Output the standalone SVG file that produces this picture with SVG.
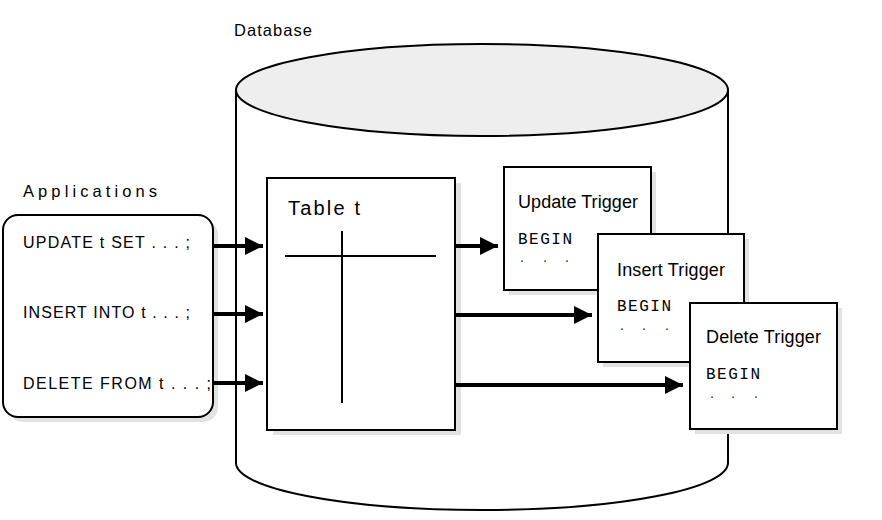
<svg xmlns="http://www.w3.org/2000/svg" width="882" height="520" viewBox="0 0 882 520">
<defs>
<style>
.t{font-family:"Liberation Sans",Arial,sans-serif;font-size:16px;fill:#000}
.h{font-family:"Liberation Sans",Arial,sans-serif;font-size:16.5px;fill:#000}
.g{font-family:"Liberation Sans",Arial,sans-serif;font-size:18px;fill:#000}
.m{font-family:"Liberation Mono","Courier New",monospace;font-size:16px;fill:#000}
.d{font-family:"Liberation Mono","Courier New",monospace;font-size:10px;fill:#000}
.box{fill:#fff;stroke:#000;stroke-width:2}
.sh{fill:#e2e2e2}
.ln{stroke:#000;stroke-width:2;fill:none}
.ar{stroke:#000;stroke-width:4;fill:none}
</style>
<marker id="ah" viewBox="0 0 10 10" refX="10" refY="5" markerWidth="4.5" markerHeight="4.7" markerUnits="strokeWidth" orient="auto">
<path d="M0,0 L10,5 L0,10 z" fill="#000"/>
</marker>
</defs>
<rect width="882" height="520" fill="#fff"/>
<g id="database">
<path d="M236,90 L236,463 A246,47 0 0 0 728,463 L728,90" fill="#fff" stroke="#000" stroke-width="2"/>
<ellipse cx="482" cy="90" rx="246" ry="46" fill="#eeeeee" stroke="#000" stroke-width="2"/>
<text class="h" x="234" y="36" textLength="78" lengthAdjust="spacing">Database</text>
</g>
<g id="applications">
<rect class="sh" x="8" y="220" width="210" height="202" rx="15"/>
<rect class="box" x="3" y="215" width="210" height="202" rx="15"/>
<text class="h" x="23" y="197" textLength="134" lengthAdjust="spacing">Applications</text>
<text class="t" x="23" y="248" textLength="167" lengthAdjust="spacing">UPDATE t SET . . . ;</text>
<text class="t" x="23" y="318" textLength="167" lengthAdjust="spacing">INSERT INTO t . . . ;</text>
<text class="t" x="23" y="389" textLength="188" lengthAdjust="spacing">DELETE FROM t . . . ;</text>
</g>
<g id="table">
<rect class="sh" x="273" y="183" width="188" height="252"/>
<rect class="box" x="267" y="178" width="188" height="252"/>
<text class="t" x="288" y="215" style="font-size:20px" textLength="72" lengthAdjust="spacing">Table t</text>
<line class="ln" x1="285" y1="256" x2="436" y2="256"/>
<line class="ln" x1="342" y1="231" x2="342" y2="403"/>
</g>
<g id="update-trigger">
<rect class="sh" x="509" y="172" width="147" height="123"/>
<rect class="box" x="504" y="167" width="147" height="123"/>
<text class="g" x="518" y="208" textLength="120" lengthAdjust="spacing">Update Trigger</text>
<text class="m" x="518" y="244" textLength="54" lengthAdjust="spacing">BEGIN</text>
<text class="d" x="519 542 564" y="262">...</text>
</g>
<g id="insert-trigger">
<rect class="sh" x="603" y="239" width="146" height="128"/>
<rect class="box" x="598" y="234" width="146" height="128"/>
<text class="g" x="617" y="276" textLength="108" lengthAdjust="spacing">Insert Trigger</text>
<text class="m" x="617" y="311" textLength="54" lengthAdjust="spacing">BEGIN</text>
<text class="d" x="619 641 664" y="330">...</text>
</g>
<g id="delete-trigger">
<rect class="sh" x="695" y="308" width="147" height="126"/>
<rect class="box" x="690" y="303" width="147" height="126"/>
<text class="g" x="706" y="343" textLength="115" lengthAdjust="spacing">Delete Trigger</text>
<text class="m" x="706" y="379" textLength="54" lengthAdjust="spacing">BEGIN</text>
<text class="d" x="709 730 753" y="398">...</text>
</g>
<g id="connectors">
<line class="ar" x1="213" y1="246" x2="263" y2="246" marker-end="url(#ah)"/>
<line class="ar" x1="213" y1="314" x2="263" y2="314" marker-end="url(#ah)"/>
<line class="ar" x1="213" y1="383" x2="263" y2="383" marker-end="url(#ah)"/>
<line class="ar" x1="455" y1="246" x2="498" y2="246" marker-end="url(#ah)"/>
<line class="ar" x1="455" y1="315" x2="592" y2="315" marker-end="url(#ah)"/>
<line class="ar" x1="455" y1="385" x2="683" y2="385" marker-end="url(#ah)"/>
</g>
</svg>
